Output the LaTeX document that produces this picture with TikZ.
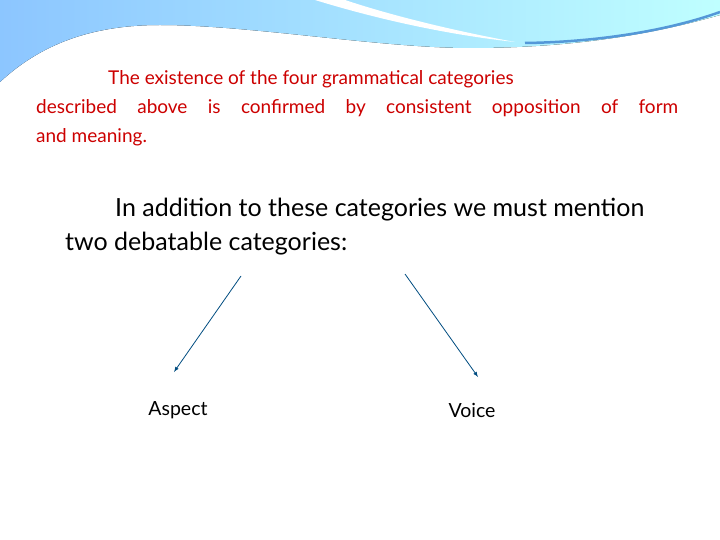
\documentclass[tikz,border=0pt]{standalone}
\usepackage{fontspec}
\setmainfont{Lato}
\begin{document}
\begin{tikzpicture}[x=1pt,y=-1pt,
  para/.style={anchor=north west,inner sep=0pt},
  lbl/.style={inner sep=0pt,font=\fontsize{19.5}{22}\selectfont},
  arr/.style={draw=blue!40!cyan!50!black,line width=0.8pt,-latex}]
\useasboundingbox (0,0) rectangle (720,540);
\fill[left color=cyan!50!blue!45,right color=cyan!25] (0,0) -- (0,82) .. controls (40,45) and (90,25) .. (160,25) .. controls (250,25) and (380,48) .. (470,48) .. controls (570,48) and (650,35) .. (720,15) -- (720,0) -- cycle;
\fill[white] (315,0) .. controls (380,20) and (450,35) .. (515,42) .. controls (450,30) and (390,15) .. (345,0) -- cycle;
\draw[cyan!60!blue!70,line width=2.5pt] (525,43) .. controls (600,42) and (670,30) .. (720,12);
\node[para,text width=642pt,text=red!80!black,font=\fontsize{19}{29}\selectfont,align=justify] (p1) at (36,70)
  {\hspace*{72pt}The existence of the four grammatical categories\\described above is confirmed by consistent opposition of form\linebreak and meaning.};
\node[para,align=left,font=\fontsize{25}{34}\selectfont] (p2) at (65,198)
  {\hspace*{50pt}In addition to these categories we must mention\\two debatable categories:};
\coordinate (s1) at (241,276);
\coordinate (s2) at (405,274);
\coordinate (e1) at (174,372);
\coordinate (e2) at (478,377);
\node[lbl] (a) at (178,410) {Aspect};
\node[lbl] (v) at (472,410) {Voice};
\draw[arr] (s1) -- (e1);
\draw[arr] (s2) -- (e2);
\end{tikzpicture}
\end{document}
